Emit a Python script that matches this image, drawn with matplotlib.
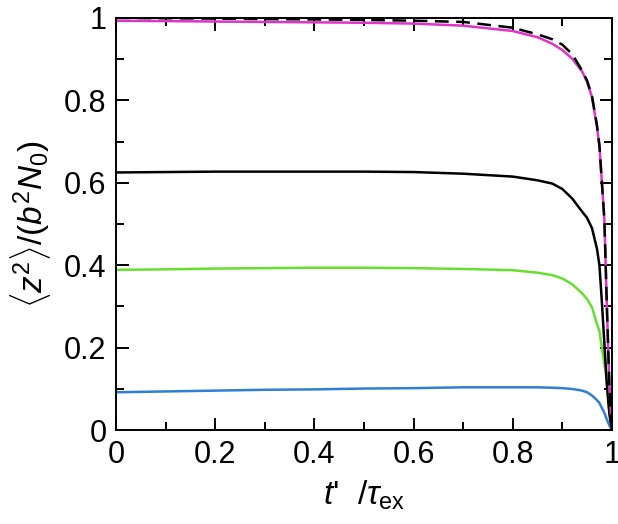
import matplotlib
matplotlib.use("Agg")
import matplotlib.pyplot as plt
from matplotlib.ticker import MultipleLocator, FuncFormatter

plt.rcParams['font.family'] = ['Liberation Sans', 'DejaVu Sans']
plt.rcParams['mathtext.fontset'] = 'custom'
plt.rcParams['mathtext.rm'] = 'Liberation Sans'
plt.rcParams['mathtext.it'] = 'Liberation Sans:italic'

# t'/tau_ex sample points (denser near the collapse at t' -> tau_ex)
t = [0.0, 0.1, 0.2, 0.3, 0.4, 0.5, 0.6, 0.7, 0.8, 0.85, 0.88, 0.9, 0.92, 0.94, 0.95,
     0.96, 0.97, 0.975, 0.98, 0.985, 0.99, 0.995, 1.0]

dashed = [1.0, 0.999, 0.998, 0.997, 0.996, 0.995, 0.993, 0.99, 0.976, 0.96, 0.948, 0.935,
          0.912, 0.872, 0.848, 0.81, 0.74, 0.69, 0.60, 0.51, 0.30, 0.11, 0.0]
magenta = [0.993, 0.992, 0.991, 0.99, 0.989, 0.988, 0.986, 0.981, 0.968, 0.953, 0.937, 0.922,
           0.901, 0.87, 0.845, 0.808, 0.735, 0.69, 0.60, 0.51, 0.30, 0.11, 0.0]
black = [0.625, 0.626, 0.627, 0.627, 0.627, 0.627, 0.626, 0.622, 0.615, 0.606, 0.598, 0.585,
         0.562, 0.53, 0.515, 0.49, 0.44, 0.40, 0.31, 0.21, 0.11, 0.04, 0.0]
green = [0.389, 0.39, 0.392, 0.393, 0.394, 0.394, 0.393, 0.391, 0.388, 0.382, 0.376, 0.368,
         0.354, 0.332, 0.318, 0.298, 0.258, 0.24, 0.20, 0.16, 0.12, 0.05, 0.0]
blue = [0.092, 0.094, 0.096, 0.098, 0.099, 0.101, 0.102, 0.104, 0.104, 0.104, 0.103, 0.102,
        0.1, 0.096, 0.092, 0.084, 0.073, 0.066, 0.054, 0.042, 0.026, 0.012, 0.0]

fig = plt.figure(figsize=(6.18, 5.24), dpi=100)
ax = fig.add_axes([0.188, 0.179, 0.802, 0.787])

ax.plot(t, blue, color="#2f7fd8", lw=1.8)
ax.plot(t, green, color="#66e02e", lw=1.8)
ax.plot(t, black, color="black", lw=1.8)
ax.plot(t, magenta, color="#e033c8", lw=1.8)
ax.plot(t, dashed, color="black", lw=1.8, ls=(0, (5.5, 3)))

ax.set_xlim(0, 1)
ax.set_ylim(0, 1)
fmt = FuncFormatter(lambda v, p: "%g" % round(v, 2))
for axis in (ax.xaxis, ax.yaxis):
    axis.set_major_locator(MultipleLocator(0.2))
    axis.set_minor_locator(MultipleLocator(0.1))
    axis.set_major_formatter(fmt)
ax.tick_params(which='both', direction='in', top=True, right=True, width=1.4, labelsize=22)
ax.tick_params(which='major', length=9, pad=7)
ax.tick_params(which='minor', length=6)
for s in ax.spines.values():
    s.set_linewidth(1.4)

ax.set_xlabel(r"$t$'  /$\tau_{\rm ex}$", fontsize=24, labelpad=6)
ax.set_ylabel(r"$\langle z^2\rangle/(b^2N_0)$", fontsize=24, labelpad=8)

fig.savefig("out.png", dpi=100)
